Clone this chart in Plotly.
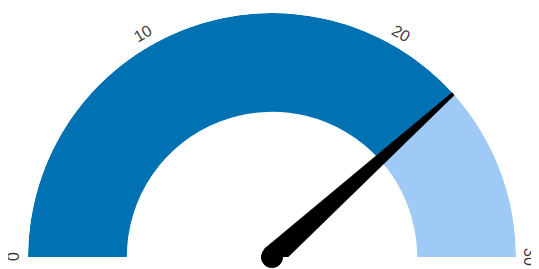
import math
import plotly.graph_objects as go

# ---- data ----
gauge_min = 0
gauge_max = 30
value = 23.0
tick_values = [0, 10, 20, 30]
tick_labels = ["0", "10", "20", "30"]

# ---- style ----
DARK = "#0071b3"
LIGHT = "#9fcaf5"
INNER = 0.595        # inner radius fraction of the band
LABEL_R = 1.057      # tick-label radius
TIP_R = 1.035        # needle tip radius
BASE_HALF = 0.046    # needle half width at the hub
TIP_HALF_DEG = 0.3   # tiny angular half width at the tip

deg_per_unit = 180.0 / (gauge_max - gauge_min)


def to_theta(v):
    return (v - gauge_min) * deg_per_unit


fig = go.Figure()

# value band (dark) and remaining band (light)
fig.add_trace(go.Barpolar(
    theta=[to_theta(gauge_min)], r=[1 - INNER], base=[INNER],
    width=[to_theta(value) - to_theta(gauge_min)], offset=0,
    marker=dict(color=DARK, line=dict(width=0)), hoverinfo="skip"))
fig.add_trace(go.Barpolar(
    theta=[to_theta(value)], r=[1 - INNER], base=[INNER],
    width=[to_theta(gauge_max) - to_theta(value)], offset=0,
    marker=dict(color=LIGHT, line=dict(width=0)), hoverinfo="skip"))

# needle
tn = to_theta(value)
fig.add_trace(go.Scatterpolar(
    r=[BASE_HALF, TIP_R, TIP_R, BASE_HALF, BASE_HALF],
    theta=[tn - 90, tn - TIP_HALF_DEG, tn + TIP_HALF_DEG, tn + 90, tn - 90],
    mode="lines", fill="toself", fillcolor="black",
    line=dict(color="black", width=0.5), hoverinfo="skip"))
fig.add_trace(go.Scatterpolar(
    r=[0], theta=[tn], mode="markers", cliponaxis=False,
    marker=dict(color="black", size=22), hoverinfo="skip"))

# tick labels, rotated tangentially
annotations = []
for tv, tl in zip(tick_values, tick_labels):
    phi = math.radians(180 - to_theta(tv))
    annotations.append(dict(
        x=0.5 + 0.5 * LABEL_R * math.cos(phi),
        y=LABEL_R * math.sin(phi),
        xref="paper", yref="paper", text=tl, showarrow=False,
        textangle=90 - math.degrees(phi),
        xanchor="center", yanchor="middle",
        font=dict(family="Liberation Sans, Arial, sans-serif", size=16, color="#3a3a3a")))

fig.update_layout(
    width=539, height=269,
    margin=dict(l=20, r=31, t=5, b=20),
    paper_bgcolor="white",
    showlegend=False,
    polar=dict(
        sector=[0, 180],
        bgcolor="white",
        bargap=0,
        radialaxis=dict(range=[0, 1], visible=False),
        angularaxis=dict(rotation=180, direction="clockwise",
                         showgrid=False, showline=False,
                         showticklabels=False, ticks=""),
    ),
    annotations=annotations,
)

fig.write_html("out.html")
